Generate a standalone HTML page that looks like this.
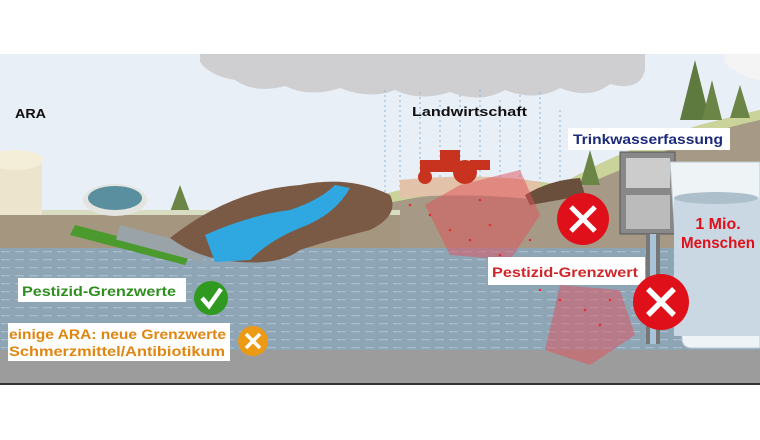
<!DOCTYPE html>
<html><head><meta charset="utf-8"><style>
html,body{margin:0;padding:0;background:#fff}
svg{display:block}
text{font-family:"Liberation Sans",sans-serif;font-weight:bold}
</style></head><body>
<svg width="760" height="440" viewBox="0 0 760 440" xmlns="http://www.w3.org/2000/svg">
<defs>
<pattern id="w" width="14" height="8" patternUnits="userSpaceOnUse">
<rect width="14" height="8" fill="#8ea5b6"/><rect x="1" y="3" width="9" height="1.3" fill="#a9bccb"/>
</pattern>
</defs>
<rect x="0" y="54" width="760" height="330" fill="#e8eff6"/>
<path d="M200 54 H645 V70 Q640 92 610 84 Q590 100 560 88 Q535 102 505 90 Q480 104 450 92 Q420 102 395 90 Q370 100 340 88 Q310 98 285 86 Q255 94 235 80 Q210 76 200 62Z" fill="#cfcfd1"/>
<path d="M725 54 H760 V80 Q745 78 735 70 Q722 66 725 54Z" fill="#f4f4f4"/>
<g stroke="#8bb4d8" stroke-width="1" stroke-dasharray="2 3">
<line x1="385" y1="90" x2="385" y2="230"/><line x1="400" y1="95" x2="400" y2="280"/>
<line x1="420" y1="92" x2="420" y2="250"/><line x1="440" y1="100" x2="440" y2="300"/>
<line x1="460" y1="95" x2="460" y2="260"/><line x1="480" y1="90" x2="480" y2="290"/>
<line x1="500" y1="100" x2="500" y2="240"/><line x1="520" y1="95" x2="520" y2="220"/>
<line x1="540" y1="92" x2="540" y2="200"/><line x1="560" y1="110" x2="560" y2="190"/>
</g>
<path d="M380 195 Q480 170 560 185 Q620 150 700 125 Q740 115 760 110 V260 H380Z" fill="#a69a86"/>
<path d="M380 195 Q480 170 560 185 Q620 150 700 125 Q740 115 760 110 V120 Q720 128 680 145 Q620 170 560 195 Q480 182 380 205Z" fill="#c9d39a"/>
<path d="M400 180 Q480 172 540 182 L540 200 Q470 192 400 198Z" fill="#e2c2a8"/>
<polygon points="695,60 680,120 710,120" fill="#5f7a3e"/>
<polygon points="712,80 702,120 722,120" fill="#6b8547"/>
<polygon points="740,85 730,118 750,118" fill="#6b8547"/>
<polygon points="590,150 580,185 600,185" fill="#6b8547"/>
<polygon points="180,185 170,212 190,212" fill="#6b8547"/>
<rect x="0" y="213" width="400" height="37" fill="#a59680"/>
<rect x="0" y="210" width="400" height="5" fill="#d8dcc0"/>
<rect x="0" y="248" width="760" height="104" fill="url(#w)"/>
<rect x="0" y="350" width="760" height="34" fill="#9c9c9c"/>
<rect x="0" y="383" width="760" height="2" fill="#333"/>
<rect x="0" y="160" width="42" height="55" fill="#ece4cc"/>
<ellipse cx="15" cy="160" rx="28" ry="10" fill="#f4eed9"/>
<ellipse cx="115" cy="200" rx="32" ry="16" fill="#e4e4e0"/>
<ellipse cx="115" cy="198" rx="27" ry="12" fill="#5a8fa0"/>
<polygon points="75,225 190,255 185,265 70,235" fill="#4a9a2e"/>
<rect x="120" y="225" width="90" height="15" fill="#9aa3a8" transform="rotate(15 120 225)"/>
<path d="M170 238 Q230 190 300 185 Q350 175 390 195 Q400 215 370 230 Q330 240 300 250 Q280 265 240 262 Q200 260 170 238Z" fill="#7a5a44"/>
<path d="M205 235 Q250 215 290 210 Q320 200 335 185 L350 188 Q335 215 300 228 Q270 240 250 260 L215 262Z" fill="#2fa7e0"/>
<path d="M525 195 Q550 180 580 178 L585 195 Q560 200 530 205Z" fill="#6a4f3c"/>
<g fill="#c8331f">
<rect x="420" y="160" width="40" height="12"/><rect x="440" y="150" width="20" height="12"/>
<circle cx="425" cy="177" r="7"/><circle cx="465" cy="172" r="12"/><rect x="470" y="160" width="20" height="10"/>
</g>
<polygon points="460,185 520,170 540,215 510,260 450,255 425,205" fill="#e0505a" opacity="0.5"/>
<polygon points="560,285 620,290 635,335 590,365 545,350" fill="#e0505a" opacity="0.5"/>
<g fill="#e23030">
<circle cx="430" cy="215" r="1.3"/><circle cx="450" cy="230" r="1.3"/><circle cx="470" cy="240" r="1.3"/><circle cx="490" cy="225" r="1.3"/><circle cx="500" cy="255" r="1.3"/><circle cx="520" cy="270" r="1.3"/><circle cx="540" cy="290" r="1.3"/><circle cx="560" cy="300" r="1.3"/><circle cx="585" cy="310" r="1.3"/><circle cx="600" cy="325" r="1.3"/><circle cx="410" cy="205" r="1.3"/><circle cx="480" cy="200" r="1.3"/><circle cx="530" cy="240" r="1.3"/><circle cx="610" cy="300" r="1.3"/>
</g>
<rect x="620" y="152" width="55" height="82" fill="#888" stroke="#555"/>
<rect x="626" y="158" width="44" height="30" fill="#ccc"/>
<rect x="626" y="195" width="44" height="34" fill="#bbb"/>
<rect x="646" y="234" width="14" height="110" fill="#777"/>
<rect x="650" y="234" width="6" height="110" fill="#a9c3d9"/>
<path d="M670 162 L760 162 L760 348 L692 348 Q682 348 682 338Z" fill="#eef3f6" stroke="#bfc9cf"/>
<rect x="674" y="198" width="86" height="138" fill="#c9d8e2"/>
<ellipse cx="716" cy="198" rx="42" ry="6" fill="#aebfcc"/>
<text x="718" y="229" font-size="16" fill="#e0101a" text-anchor="middle">1 Mio.</text>
<text x="718" y="248" font-size="16" fill="#e0101a" text-anchor="middle" textLength="74" lengthAdjust="spacingAndGlyphs">Menschen</text>
<text x="15" y="118" font-size="13" fill="#111" textLength="31" lengthAdjust="spacingAndGlyphs">ARA</text>
<text x="412" y="116" font-size="13" fill="#111" textLength="115" lengthAdjust="spacingAndGlyphs">Landwirtschaft</text>
<rect x="568" y="128" width="162" height="22" fill="#fff"/>
<text x="573" y="144" font-size="13.5" fill="#1c2a7a" textLength="150" lengthAdjust="spacingAndGlyphs">Trinkwasserfassung</text>
<rect x="18" y="278" width="168" height="24" fill="#fff"/>
<text x="22" y="296" font-size="14" fill="#2e8f1e" textLength="154" lengthAdjust="spacingAndGlyphs">Pestizid-Grenzwerte</text>
<circle cx="211" cy="298" r="17" fill="#2f9a1f"/>
<path d="M202 298 L209 306 L221 289" stroke="#fff" stroke-width="4.5" fill="none"/>
<rect x="8" y="323" width="222" height="38" fill="#fff"/>
<text x="9" y="339" font-size="13.5" fill="#e0850f" textLength="217" lengthAdjust="spacingAndGlyphs">einige ARA: neue Grenzwerte</text>
<text x="9" y="356" font-size="13.5" fill="#e0850f" textLength="216" lengthAdjust="spacingAndGlyphs">Schmerzmittel/Antibiotikum</text>
<circle cx="253" cy="341" r="15" fill="#ec9a14"/>
<path d="M246 334 L260 348 M260 334 L246 348" stroke="#fff" stroke-width="3.5"/>
<rect x="488" y="257" width="157" height="28" fill="#fff"/>
<text x="492" y="277" font-size="14" fill="#d0262a" textLength="146" lengthAdjust="spacingAndGlyphs">Pestizid-Grenzwert</text>
<circle cx="583" cy="219" r="26" fill="#e0101a"/>
<path d="M571 207 L595 231 M595 207 L571 231" stroke="#fff" stroke-width="5"/>
<circle cx="661" cy="302" r="28" fill="#e0101a"/>
<path d="M648 289 L674 315 M674 289 L648 315" stroke="#fff" stroke-width="5.5"/>
</svg>
</body></html>
